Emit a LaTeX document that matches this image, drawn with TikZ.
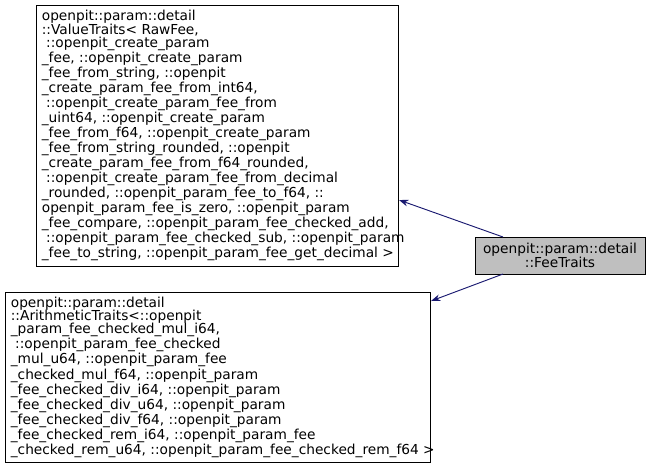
\documentclass[tikz,border=0pt]{standalone}
\usepackage{fontspec}
\setmainfont{DejaVu Sans}
\usetikzlibrary{arrows.meta}
\begin{document}
\begin{tikzpicture}[x=0.75pt,y=-0.75pt,
 box/.style={draw=black,line width=0.6pt,inner sep=0pt},
 txt/.style={inner sep=0pt,anchor=west,align=left,font=\fontsize{10.3pt}{10.05pt}\selectfont},
 edge/.style={draw={rgb,255:red,25;green,25;blue,112},line width=0.7pt,-{Stealth[length=7pt,width=5pt]}}]
\useasboundingbox (0,0) rectangle (649,469);
\node[box,minimum width=362*0.75pt,minimum height=261*0.75pt] (vt) at (217,135.5) {};
\node[txt] (vtt) at ([xshift=6*0.75pt]vt.west) {openpit::param::detail\\
::ValueTraits< RawFee,\\
\ ::openpit\_create\_param\\
\_fee, ::openpit\_create\_param\\
\_fee\_from\_string, ::openpit\\
\_create\_param\_fee\_from\_int64,\\
\ ::openpit\_create\_param\_fee\_from\\
\_uint64, ::openpit\_create\_param\\
\_fee\_from\_f64, ::openpit\_create\_param\\
\_fee\_from\_string\_rounded, ::openpit\\
\_create\_param\_fee\_from\_f64\_rounded,\\
\ ::openpit\_create\_param\_fee\_from\_decimal\\
\_rounded, ::openpit\_param\_fee\_to\_f64, ::\\
openpit\_param\_fee\_is\_zero, ::openpit\_param\\
\_fee\_compare, ::openpit\_param\_fee\_checked\_add,\\
\ ::openpit\_param\_fee\_checked\_sub, ::openpit\_param\\
\_fee\_to\_string, ::openpit\_param\_fee\_get\_decimal >};
\node[box,minimum width=425*0.75pt,minimum height=170*0.75pt] (at) at (217.5,377) {};
\node[txt] (att) at ([xshift=6*0.75pt]at.west) {openpit::param::detail\\
::ArithmeticTraits<::openpit\\
\_param\_fee\_checked\_mul\_i64,\\
\ ::openpit\_param\_fee\_checked\\
\_mul\_u64, ::openpit\_param\_fee\\
\_checked\_mul\_f64, ::openpit\_param\\
\_fee\_checked\_div\_i64, ::openpit\_param\\
\_fee\_checked\_div\_u64, ::openpit\_param\\
\_fee\_checked\_div\_f64, ::openpit\_param\\
\_fee\_checked\_rem\_i64, ::openpit\_param\_fee\\
\_checked\_rem\_u64, ::openpit\_param\_fee\_checked\_rem\_f64 >};
\node[box,fill={rgb,255:red,191;green,191;blue,191},minimum width=170*0.75pt,minimum height=37*0.75pt,align=center,font=\fontsize{10.3pt}{10.05pt}\selectfont] (ft) at (560,255.5) {openpit::param::detail\\::FeeTraits};
\coordinate (s1) at (503,237);
\coordinate (s2) at (503,274);
\draw[edge] (s1) -- (399,200);
\draw[edge] (s2) -- (431,301);
\end{tikzpicture}
\end{document}
